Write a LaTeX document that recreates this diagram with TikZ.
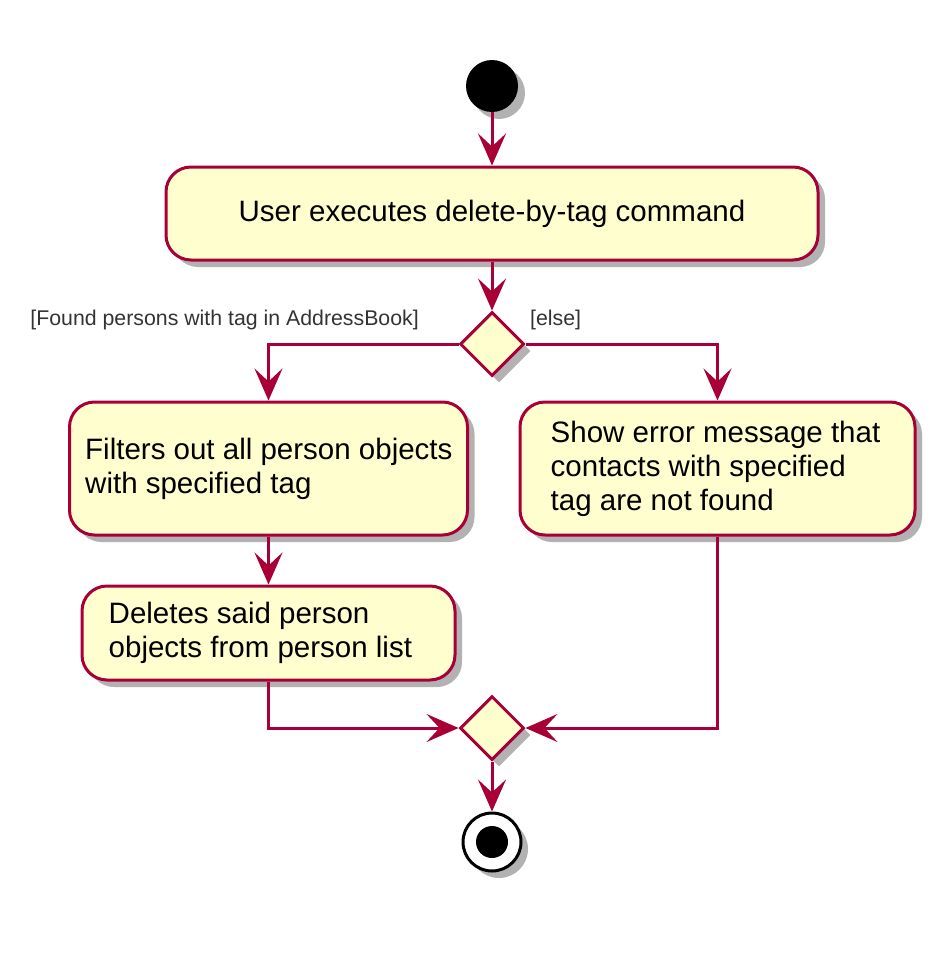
\documentclass[tikz,border=0pt]{standalone}
\usepackage{fontspec}
\setmainfont{Liberation Sans}
\usetikzlibrary{shapes.geometric,arrows.meta,shadows}
\definecolor{umlborder}{HTML}{A80036}
\definecolor{umlfill}{HTML}{FEFECE}
\begin{document}
\begin{tikzpicture}[x=1pt,y=-1pt,
  shad/.style={drop shadow={shadow xshift=7pt,shadow yshift=-7pt,opacity=0.3,fill=black}},
  actbox/.style={draw=umlborder,fill=umlfill,line width=3pt,rounded corners=25pt,shad,inner sep=0pt},
  boxtext/.style={font=\fontsize{29.5}{34}\selectfont,align=left,inner sep=0pt,anchor=west},
  decision/.style={diamond,aspect=1,draw=umlborder,fill=umlfill,line width=3pt,
    minimum size=64pt,inner sep=0pt,shad},
  flow/.style={draw=umlborder,line width=3pt,
    -{Stealth[length=32pt,width=28pt,inset=13pt]}},
  guard/.style={font=\fontsize{21.3}{24}\selectfont,text=black!80,inner sep=0pt}]
\useasboundingbox (0,0) rectangle (949,961);
% start
\node[circle,fill=black,minimum size=52pt,inner sep=0pt,shad] (start) at (492,86) {};
% top action
\node[actbox,minimum width=652pt,minimum height=93pt] (exec) at (492,213.5) {};
\node[boxtext,anchor=center] (execT) at (exec.center) {User executes delete-by-tag command};
% decision
\node[decision] (d1) at (492,344) {};
% left action
\node[actbox,minimum width=398pt,minimum height=133pt] (filter) at (268.5,468.5) {};
\node[boxtext] (filterT) at ([xshift=17pt]filter.west)
  {Filters out all person objects\\with specified tag};
% right action
\node[actbox,minimum width=395pt,minimum height=133pt] (error) at (717.5,468.5) {};
\node[boxtext] (errorT) at ([xshift=32pt]error.west)
  {Show error message that\\contacts with specified\\tag are not found};
% delete action
\node[actbox,minimum width=373pt,minimum height=94pt] (del) at (268.5,633) {};
\node[boxtext] (delT) at ([xshift=28pt]del.west)
  {Deletes said person\\objects from person list};
% merge
\node[decision] (d2) at (492,728) {};
% end
\node[circle,draw=black,line width=3pt,fill=white,minimum size=58pt,inner sep=0pt,shad] (stop) at (492,842) {};
\node[circle,fill=black,minimum size=32pt,inner sep=0pt] (stopdot) at (stop.center) {};
% guards
\node[guard,anchor=east] (g1) at (419,320) {[Found persons with tag in AddressBook]};
\node[guard,anchor=west] (g2) at (530,320) {[else]};
% connectors
\draw[flow] (start) -- (exec.north);
\draw[flow] (exec.south) -- (d1.north);
\draw[flow] (d1.west) -| (filter.north);
\draw[flow] (d1.east) -| (error.north);
\draw[flow] (filter.south) -- (del.north);
\draw[flow] (del.south) |- (d2.west);
\draw[flow] (error.south) |- (d2.east);
\draw[flow] (d2.south) -- (stop.north);
\end{tikzpicture}
\end{document}
